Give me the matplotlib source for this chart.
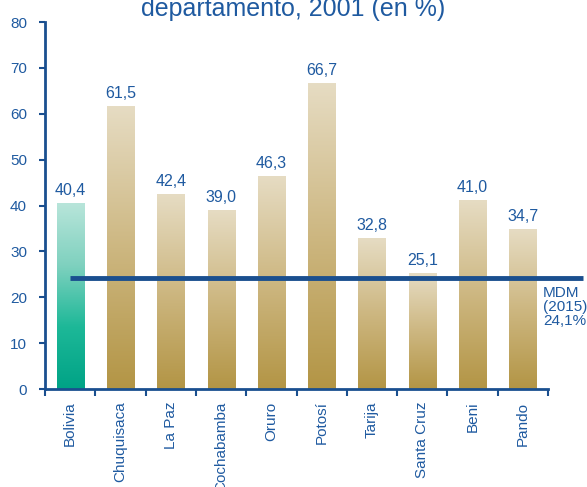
import numpy as np
import matplotlib.pyplot as plt
from matplotlib.colors import LinearSegmentedColormap

plt.rcParams['font.family'] = ['Liberation Sans', 'DejaVu Sans']

departamentos = ['Bolivia', 'Chuquisaca', 'La Paz', 'Cochabamba', 'Oruro',
                 'Potosí', 'Tarija', 'Santa Cruz', 'Beni', 'Pando']
valores = [40.4, 61.5, 42.4, 39.0, 46.3, 66.7, 32.8, 25.1, 41.0, 34.7]
meta_mdm = 24.1
yticks = [0, 10, 20, 30, 40, 50, 60, 70, 80]

azul = '#1f5aa0'
oro = LinearSegmentedColormap.from_list('oro', ['#b39545', '#cdb781', '#e6dcc3'])
verde = LinearSegmentedColormap.from_list('verde', ['#00a386', '#1db898', '#7fd1bf', '#b8e5da'])

fig = plt.figure(figsize=(5.87, 4.87), dpi=100)
ax = fig.add_axes([0.0767, 0.2012, 0.857, 0.7536])

x = np.arange(len(departamentos))
ancho = 0.54
grad = np.linspace(0, 1, 256).reshape(-1, 1)
for i, v in enumerate(valores):
    cmap = verde if i == 0 else oro
    ax.imshow(grad, cmap=cmap, origin='lower', aspect='auto',
              extent=[x[i] - ancho / 2, x[i] + ancho / 2, 0, v], zorder=2)
    ax.text(x[i], v + 1.2, f'{v:.1f}'.replace('.', ','), ha='center', va='bottom',
            color=azul, fontsize=11.5)

ax.set_xlim(-0.5, len(departamentos) - 0.5)
ax.set_ylim(0, 80)

# linea de la meta
ax.plot([0, 10.2], [meta_mdm, meta_mdm], color='#1a4f8f', lw=3.5, zorder=3,
        clip_on=False, solid_capstyle='butt')
ax.text(9.4, 22.4, 'MDM\n(2015)\n24,1%', ha='left', va='top', color=azul,
        fontsize=11, linespacing=1.0)

ax.set_yticks(yticks)
ax.set_xticks(x)
ax.set_xticklabels(departamentos, rotation=90, color=azul, fontsize=11)
ax.set_xticks(np.arange(-0.5, len(departamentos)), minor=True)
ax.tick_params(axis='x', which='major', length=0, pad=9)
ax.tick_params(axis='x', which='minor', length=5, width=1.5, color='#1a4f8f', direction='out')
ax.tick_params(axis='y', length=4, width=1.5, color='#1a4f8f', labelcolor=azul,
               labelsize=11, pad=9)
for lado in ['top', 'right']:
    ax.spines[lado].set_visible(False)
for lado in ['left', 'bottom']:
    ax.spines[lado].set_color('#1a4f8f')
    ax.spines[lado].set_linewidth(2)

fig.text(0.5, 0.982, 'departamento, 2001 (en %)', ha='center', va='center',
         color=azul, fontsize=18)

fig.savefig('out.png', dpi=100)
